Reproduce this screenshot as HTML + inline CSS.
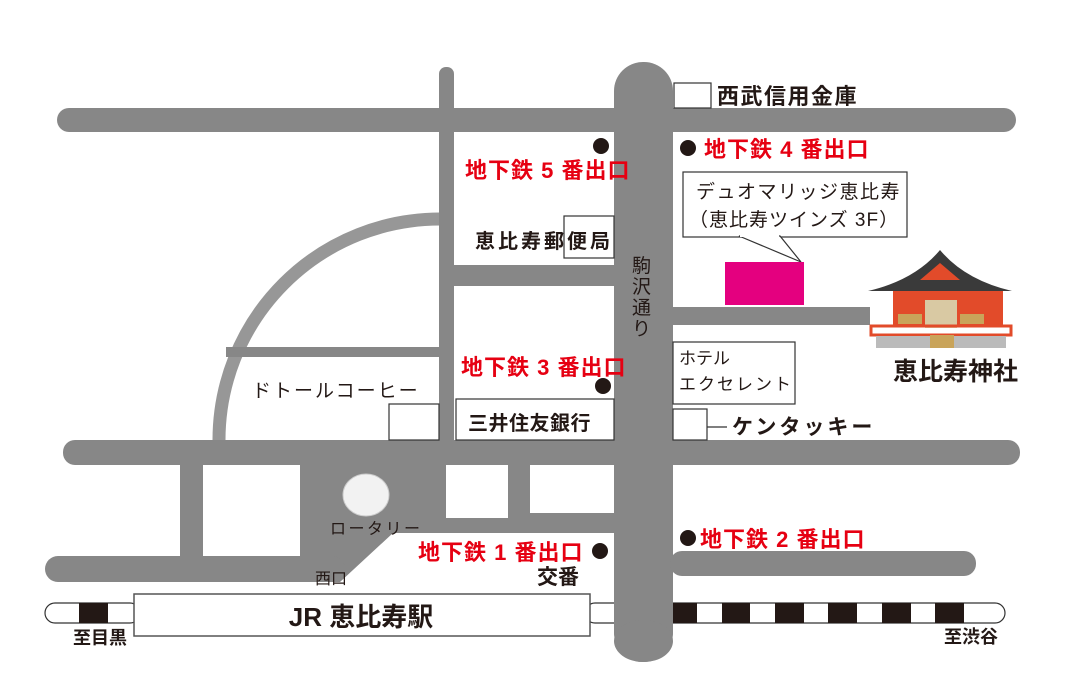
<!DOCTYPE html>
<html><head><meta charset="utf-8"><style>
html,body{margin:0;padding:0;background:#fff;}
svg{display:block;}
text{font-family:"Liberation Sans","Noto Sans CJK JP",sans-serif;}
</style></head><body>
<svg width="1071" height="684" viewBox="0 0 1071 684" xmlns="http://www.w3.org/2000/svg">
<g fill="#878787">
<path d="M219 440 A221 221 0 0 1 440 219" fill="none" stroke="#979797" stroke-width="13"/>
<rect x="226" y="347" width="214" height="10"/>
<rect x="439" y="67" width="15" height="380" rx="7"/>
<rect x="454" y="265" width="165" height="21"/>
<rect x="57" y="108" width="959" height="24" rx="12"/>
<rect x="614" y="62" width="59" height="600" rx="29"/>
<rect x="670" y="307" width="200" height="18"/>
<rect x="63" y="440" width="957" height="25" rx="12"/>
<rect x="180" y="460" width="23" height="100"/>
<polygon points="300,460 620,460 620,533 393,533 340,582 300,582"/>
<rect x="45" y="556" width="300" height="26" rx="13"/>
<rect x="670" y="551" width="306" height="25" rx="12"/>
</g>
<g fill="#fff">
<rect x="203" y="465" width="97" height="91"/>
<ellipse cx="366" cy="495" rx="23" ry="21" fill="#f2f2f2" stroke="#ccc" stroke-width="1"/>
<rect x="446" y="465" width="62" height="53"/>
<rect x="530" y="465" width="84" height="48"/>
</g>
<rect x="45" y="603" width="95" height="20" rx="10" fill="#fff" stroke="#333" stroke-width="1.2"/>
<rect x="79" y="603" width="29" height="20" fill="#231815"/>
<rect x="585" y="603" width="420" height="20" rx="10" fill="#fff" stroke="#333" stroke-width="1.2"/>
<rect x="614" y="600" width="59" height="30" fill="#878787"/>
<rect x="614" y="620" width="59" height="42" rx="29" fill="#878787"/>
<g fill="#231815">
<rect x="673" y="603" width="24" height="20"/><rect x="722" y="603" width="28" height="20"/>
<rect x="775" y="603" width="29" height="20"/><rect x="828" y="603" width="29" height="20"/>
<rect x="882" y="603" width="29" height="20"/><rect x="935" y="603" width="29" height="20"/>
</g>
<rect x="134" y="594" width="456" height="42" fill="#fff" stroke="#555" stroke-width="1.5"/>
<text x="361" y="626" font-size="26" font-weight="bold" text-anchor="middle" fill="#231815">JR 恵比寿駅</text>
<g fill="#fff" stroke="#333" stroke-width="1.2">
<rect x="674" y="83" width="37" height="25" fill="none"/>
<rect x="564" y="216" width="50" height="42"/>
<rect x="389" y="404" width="50" height="36"/>
<rect x="456" y="399" width="158" height="41"/>
<rect x="673" y="342" width="122" height="62"/>
<rect x="673" y="409" width="34" height="31" fill="none"/>
<rect x="683" y="172" width="224" height="65"/>
</g>
<line x1="707" y1="427" x2="727" y2="427" stroke="#333" stroke-width="1.2"/>
<polygon points="739,236 801,262 780,236" fill="#fff" stroke="#333" stroke-width="1.2"/>
<line x1="740" y1="236" x2="779" y2="236" stroke="#fff" stroke-width="2"/>
<rect x="725" y="262" width="79" height="43" fill="#e4007f"/>
<g>
<path d="M940 250 Q915 280 868 291 L1012 291 Q965 280 940 250 Z" fill="#3a3a3a"/>
<polygon points="940,263 920,280 960,280" fill="#e24b2a"/>
<rect x="893" y="291" width="110" height="36" fill="#e24b2a"/>
<rect x="925" y="300" width="32" height="28" fill="#d9c9a3"/>
<rect x="898" y="314" width="24" height="10" fill="#c9a45a"/>
<rect x="960" y="314" width="24" height="10" fill="#c9a45a"/>
<rect x="871" y="326" width="140" height="9" fill="none" stroke="#e24b2a" stroke-width="3"/>
<rect x="876" y="336" width="130" height="12" fill="#bbb"/>
<rect x="930" y="335" width="24" height="13" fill="#c9a45a"/>
</g>
<g fill="#231815">
<circle cx="601" cy="146" r="8"/><circle cx="688" cy="148" r="8"/>
<circle cx="603" cy="386" r="8"/><circle cx="688" cy="538" r="8"/>
<circle cx="600" cy="551" r="8"/>
</g>
<g fill="#e60012" font-weight="bold" font-size="22" letter-spacing="1">
<text x="465" y="178">地下鉄 5 番出口</text>
<text x="704" y="157">地下鉄 4 番出口</text>
<text x="461" y="375">地下鉄 3 番出口</text>
<text x="700" y="547">地下鉄 2 番出口</text>
<text x="418" y="560">地下鉄 1 番出口</text>
</g>
<g fill="#231815">
<text x="717" y="104" font-size="22" font-weight="bold" letter-spacing="1.5">西武信用金庫</text>
<text x="696" y="198" font-size="19" letter-spacing="1.5">デュオマリッジ恵比寿</text>
<text x="689" y="226" font-size="19" letter-spacing="1">（恵比寿ツインズ 3F）</text>
<text x="475" y="248" font-size="20" font-weight="bold" letter-spacing="3">恵比寿郵便局</text>
<text x="252" y="397" font-size="19" letter-spacing="2">ドトールコーヒー</text>
<text x="468" y="430" font-size="20" font-weight="bold" letter-spacing="0.5">三井住友銀行</text>
<text x="679" y="364" font-size="17">ホテル</text>
<text x="679" y="390" font-size="17" letter-spacing="2">エクセレント</text>
<text x="732" y="434" font-size="21" font-weight="bold" letter-spacing="3">ケンタッキー</text>
<text x="893" y="380" font-size="25" font-weight="bold">恵比寿神社</text>
<text x="330" y="534" font-size="16" letter-spacing="2.5">ロータリー</text>
<text x="315" y="584" font-size="16">西口</text>
<text x="537" y="584" font-size="21" font-weight="bold">交番</text>
<text x="73" y="644" font-size="18" font-weight="bold">至目黒</text>
<text x="944" y="643" font-size="18" font-weight="bold">至渋谷</text>
<g font-size="19"><text x="632" y="272">駒</text><text x="632" y="293">沢</text><text x="632" y="314">通</text><text x="632" y="335">り</text></g>
</g>
</svg>
</body></html>
